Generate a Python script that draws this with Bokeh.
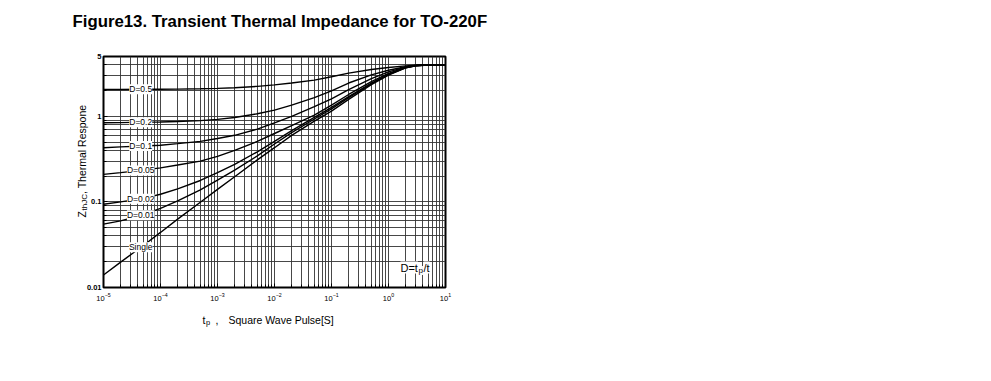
import numpy as np
from bokeh.plotting import figure
from bokeh.models import FixedTicker, CustomJSTickFormatter, Label, LabelSet, ColumnDataSource
from bokeh.core.properties import value
from bokeh.embed import file_html
from bokeh.resources import INLINE

# pulse width [s]
t_pulse = [1e-5, 2e-5, 5e-5, 1e-4, 2e-4, 5e-4, 1e-3, 2e-3, 5e-3, 1e-2, 2e-2, 5e-2,
           1e-1, 2e-1, 5e-1, 1, 2, 3, 5, 10]
# thermal response Z_thJC per duty cycle
z_d05 = [2.06, 2.06, 2.07, 2.07, 2.08, 2.10, 2.12, 2.16, 2.24, 2.33, 2.45, 2.65,
         2.90, 3.20, 3.52, 3.72, 3.88, 3.95, 3.99, 4.0]
z_d02 = [0.84, 0.845, 0.855, 0.86, 0.87, 0.89, 0.92, 0.97, 1.07, 1.18, 1.35, 1.65,
         1.98, 2.45, 3.05, 3.45, 3.80, 3.94, 3.99, 4.0]
z_d01 = [0.43, 0.44, 0.45, 0.46, 0.48, 0.51, 0.55, 0.60, 0.71, 0.84, 1.00, 1.30,
         1.60, 2.05, 2.75, 3.30, 3.76, 3.93, 3.98, 4.0]
z_d005 = [0.21, 0.22, 0.235, 0.25, 0.27, 0.30, 0.34, 0.40, 0.51, 0.63, 0.78, 1.03,
          1.35, 1.80, 2.55, 3.18, 3.72, 3.92, 3.98, 4.0]
z_d002 = [0.094, 0.10, 0.11, 0.123, 0.142, 0.178, 0.22, 0.275, 0.385, 0.51, 0.68, 0.97,
          1.27, 1.70, 2.45, 3.10, 3.71, 3.91, 3.98, 4.0]
z_d001 = [0.055, 0.06, 0.071, 0.084, 0.103, 0.138, 0.18, 0.235, 0.345, 0.475, 0.645, 0.93,
          1.22, 1.65, 2.40, 3.07, 3.70, 3.90, 3.98, 4.0]
z_single = [0.014, 0.0198, 0.031, 0.044, 0.063, 0.099, 0.14, 0.197, 0.31, 0.43, 0.60, 0.88,
            1.15, 1.58, 2.35, 3.03, 3.68, 3.90, 3.98, 4.0]

series_names = ["D=0.5", "D=0.2", "D=0.1", "D=0.05", "D=0.02", "D=0.01", "Single"]
series_values = [z_d05, z_d02, z_d01, z_d005, z_d002, z_d001, z_single]

x_major_ticks = [1e-5, 1e-4, 1e-3, 1e-2, 1e-1, 1, 10]
y_major_ticks = [0.01, 0.1, 1, 5]
y_minor_ticks = [0.02, 0.03, 0.04, 0.05, 0.06, 0.07, 0.08, 0.09,
                 0.2, 0.3, 0.4, 0.5, 0.6, 0.7, 0.8, 0.9, 2, 3, 4]
x_minor_ticks = [m * d for d in x_major_ticks[:-1] for m in range(2, 10)]

label_t = 4.5e-5
FONT = "Liberation Sans"
X0, X1, Y0, Y1 = 1e-5, 10, 0.01, 5

# frame placement on the page (pixels)
FL, FT, FW, FH = 103, 56, 342, 231
W, H = 990, 380

p = figure(x_axis_type="log", y_axis_type="log", x_range=(X0, X1), y_range=(Y0, Y1),
           frame_width=FW, frame_height=FH,
           min_border_left=FL, min_border_right=W - FL - FW,
           min_border_top=FT, min_border_bottom=H - FT - FH,
           output_backend="svg", toolbar_location=None)

p.background_fill_color = "white"
p.border_fill_color = "white"
p.outline_line_color = "black"
p.outline_line_width = 2

p.xaxis.ticker = FixedTicker(ticks=x_major_ticks, minor_ticks=x_minor_ticks)
p.yaxis.ticker = FixedTicker(ticks=y_major_ticks, minor_ticks=y_minor_ticks)
p.yaxis.formatter = CustomJSTickFormatter(code="return tick.toString()")

for ax in (p.xaxis, p.yaxis):
    ax.axis_line_color = "black"
    ax.axis_line_width = 1
    ax.major_tick_in = 4
    ax.major_tick_out = 0
    ax.minor_tick_in = 3
    ax.minor_tick_out = 0
    ax.major_tick_line_color = "black"
    ax.minor_tick_line_color = "black"
    ax.major_label_text_font = FONT
    ax.major_label_text_color = "black"

p.xaxis.major_label_text_font_size = "7.5px"
p.xaxis.major_label_standoff = 5
p.yaxis.major_label_text_font_size = "7.5px"
p.yaxis.major_label_text_font_style = "bold"
p.yaxis.major_label_standoff = 2

for g in (p.xgrid, p.ygrid):
    g.grid_line_color = "#333333"
    g.grid_line_width = 0.9
    g.minor_grid_line_color = "#333333"
    g.minor_grid_line_width = 0.9

for vals in series_values:
    p.line(t_pulse, vals, line_color="black", line_width=1.4)

# curve labels placed on the curves
lt = np.log10(t_pulse)
label_y = [10 ** np.interp(np.log10(label_t), lt, np.log10(v)) for v in series_values]
src = ColumnDataSource(dict(x=[label_t] * len(series_names), y=label_y, text=series_names))
p.add_layout(LabelSet(x="x", y="y", text="text", source=src, text_align="center",
                      text_baseline="middle", text_font=value(FONT), text_font_size="8.5px",
                      text_color="black", background_fill_color="white"))


# page pixel -> data coordinate helpers for annotation placement outside the frame
def dx(px):
    return 10 ** (np.log10(X0) + (px - FL) / FW * np.log10(X1 / X0))


def dy(py):
    return 10 ** (np.log10(Y0) + (FT + FH - py) / FH * np.log10(Y1 / Y0))


def side_lab(side, text, px, py, size, style="normal", angle=0):
    p.add_layout(Label(x=dx(px), y=dy(py), text=text,
                       text_font=FONT, text_font_size=size, text_font_style=style,
                       text_color="black", angle=angle, text_align="left",
                       text_baseline="alphabetic"), side)


def frame_lab(text, x, y, size):
    p.add_layout(Label(x=x, y=y, x_units="screen", y_units="screen", text=text,
                       text_font=FONT, text_font_size=size, text_color="black",
                       text_align="left", text_baseline="alphabetic",
                       background_fill_color="white"))


# title
side_lab("above", "Figure13. Transient Thermal Impedance for TO-220F", 72, 21, "16.8px", "bold")
# x axis label
side_lab("below", "t", 202, 319, "10.5px")
side_lab("below", "p", 205.5, 322, "7.5px")
side_lab("below", ",", 215, 319, "10.5px")
side_lab("below", "Square Wave Pulse[S]", 228, 319, "10.5px")
# y axis label (rotated)
side_lab("left", "Z", 81, 217, "10.5px", angle=np.pi / 2)
side_lab("left", "thJC", 84, 210, "8px", angle=np.pi / 2)
side_lab("left", ", Thermal Respone", 81, 193.5, "10.5px", angle=np.pi / 2)
# D = tp/t note
frame_lab("D=t", 297, 20, "11px")
frame_lab("p", 315, 17, "8px")
frame_lab("/t", 320, 20, "11px")

open("out.html", "w").write(file_html(p, INLINE))
